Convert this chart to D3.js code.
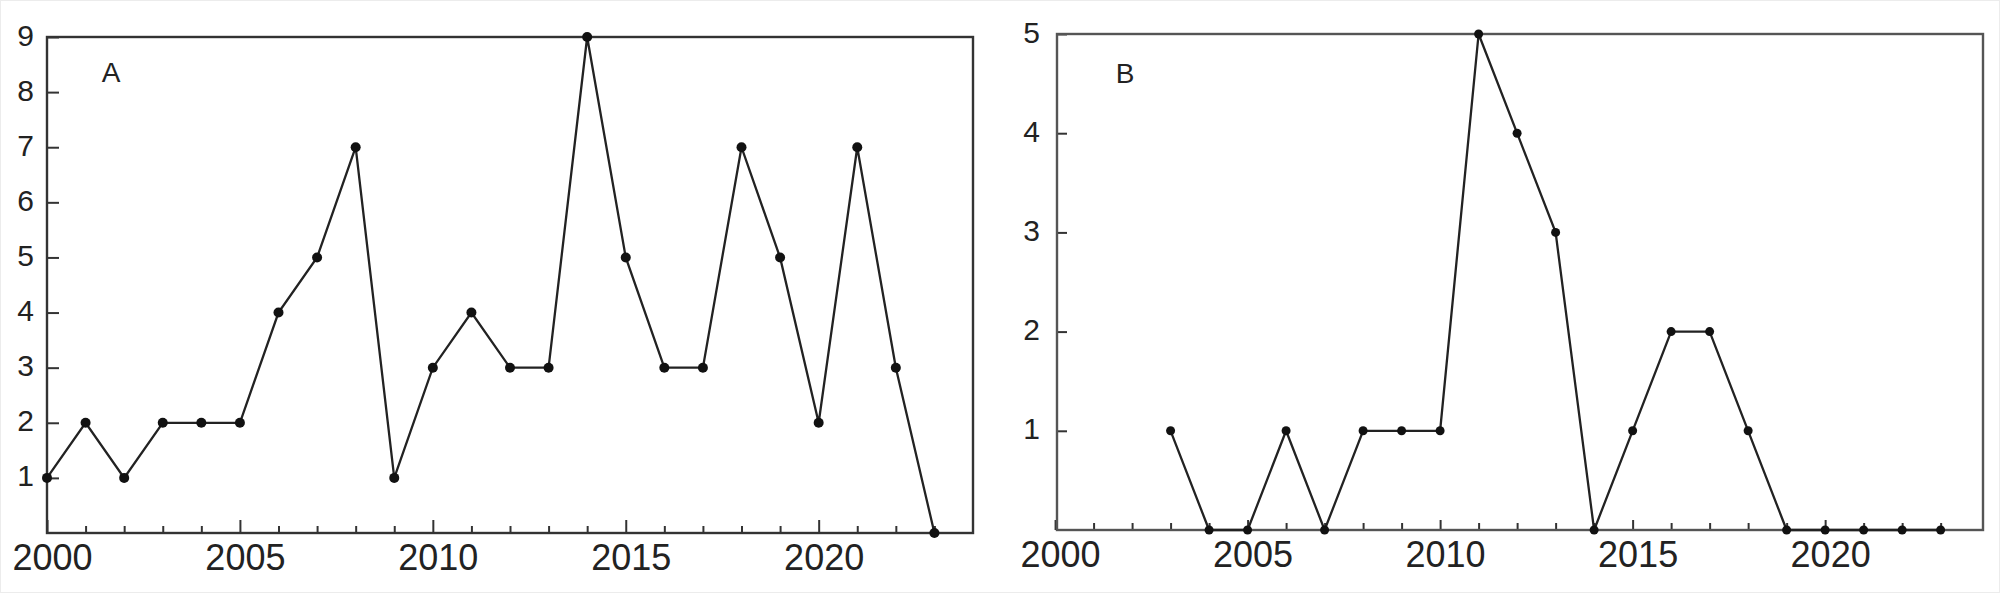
<!DOCTYPE html>
<html>
<head>
<meta charset="utf-8">
<script src="https://cdn.jsdelivr.net/npm/d3@7"></script>
<style>
  html, body { margin: 0; padding: 0; background: #fff; }
  svg { display: block; font-family: "Liberation Sans", Arial, sans-serif; }
</style>
</head>
<body>
<svg id="chart" width="2000" height="593"></svg>
<script>
// ---- data ----
const yearsA = [2000, 2001, 2002, 2003, 2004, 2005, 2006, 2007, 2008, 2009, 2010, 2011,
                2012, 2013, 2014, 2015, 2016, 2017, 2018, 2019, 2020, 2021, 2022, 2023];
const valuesA = [1, 2, 1, 2, 2, 2, 4, 5, 7, 1, 3, 4, 3, 3, 9, 5, 3, 3, 7, 5, 2, 7, 3, 0];

const yearsB = [2003, 2004, 2005, 2006, 2007, 2008, 2009, 2010, 2011, 2012, 2013,
                2014, 2015, 2016, 2017, 2018, 2019, 2020, 2021, 2022, 2023];
const valuesB = [1, 0, 0, 1, 0, 1, 1, 1, 5, 4, 3, 0, 1, 2, 2, 1, 0, 0, 0, 0, 0];

const xTickYears = [2000, 2001, 2002, 2003, 2004, 2005, 2006, 2007, 2008, 2009, 2010, 2011,
                    2012, 2013, 2014, 2015, 2016, 2017, 2018, 2019, 2020, 2021, 2022, 2023];
const xLabelYears = [2000, 2005, 2010, 2015, 2020];
const yTicksA = [1, 2, 3, 4, 5, 6, 7, 8, 9];
const yTicksB = [1, 2, 3, 4, 5];
const panelLabels = ["A", "B"];

// ---- drawing ----
const svg = d3.select("#chart");

svg.append("rect")
  .attr("x", 0.5).attr("y", 0.5).attr("width", 1999).attr("height", 592)
  .attr("fill", "none").attr("stroke", "#ececec");

function drawPanel(cfg) {
  const x = d3.scaleLinear().domain(cfg.xDomain).range([cfg.left, cfg.right]);
  const y = d3.scaleLinear().domain(cfg.yDomain).range([cfg.bottom, cfg.top]);
  const g = svg.append("g");

  // x axis (ticks inward)
  const xa = g.append("g")
    .attr("transform", `translate(0,${cfg.bottom})`)
    .call(d3.axisBottom(x)
      .tickValues(xTickYears)
      .tickSizeOuter(0)
      .tickSizeInner(-7)
      .tickPadding(cfg.xPad)
      .tickFormat(d => xLabelYears.includes(d) ? String(d) : ""));
  xa.select(".domain").remove();
  xa.selectAll(".tick line")
    .attr("stroke", "#333").attr("stroke-width", 2)
    .attr("y2", d => xLabelYears.includes(d) ? -cfg.majorTick : -7);
  xa.selectAll(".tick text")
    .attr("fill", "#222").attr("font-size", 36).attr("dx", 5);

  // y axis (ticks inward)
  const ya = g.append("g")
    .attr("transform", `translate(${cfg.left},0)`)
    .call(d3.axisLeft(y)
      .tickValues(cfg.yTicks)
      .tickSizeOuter(0)
      .tickSizeInner(-cfg.yTickLen)
      .tickPadding(cfg.yPad)
      .tickFormat(d3.format("d")));
  ya.select(".domain").remove();
  ya.selectAll(".tick line").attr("stroke", "#333").attr("stroke-width", 2);
  ya.selectAll(".tick text")
    .attr("fill", "#222").attr("font-size", 30).attr("dy", "0.27em");

  // frame
  g.append("rect")
    .attr("x", cfg.left).attr("y", cfg.top)
    .attr("width", cfg.right - cfg.left).attr("height", cfg.bottom - cfg.top)
    .attr("fill", "none").attr("stroke", cfg.frameColor).attr("stroke-width", 2.4);

  // line
  const pts = cfg.years.map((yr, i) => ({ yr, v: cfg.values[i] }));
  g.append("path")
    .datum(pts)
    .attr("fill", "none")
    .attr("stroke", "#222")
    .attr("stroke-width", 2.3)
    .attr("d", d3.line().x(d => x(d.yr)).y(d => y(d.v)));

  g.selectAll("circle.pt")
    .data(pts)
    .join("circle")
    .attr("class", "pt")
    .attr("cx", d => x(d.yr))
    .attr("cy", d => y(d.v))
    .attr("r", cfg.r)
    .attr("fill", "#111");

  // panel label
  g.append("text")
    .attr("x", cfg.labelX).attr("y", cfg.labelY)
    .attr("font-size", 28).attr("fill", "#222")
    .attr("text-anchor", "middle")
    .text(cfg.label);
}

drawPanel({
  years: yearsA, values: valuesA, yTicks: yTicksA,
  xDomain: [2000, 2024], yDomain: [0, 9],
  left: 47, right: 973, top: 37, bottom: 533,
  xPad: 11, yPad: 13, yTickLen: 12, majorTick: 13,
  frameColor: "#333", r: 5,
  label: panelLabels[0], labelX: 111, labelY: 82
});

drawPanel({
  years: yearsB, values: valuesB, yTicks: yTicksB,
  xDomain: [2000.05, 2024.1], yDomain: [0, 5],
  left: 1057, right: 1983, top: 34, bottom: 530,
  xPad: 11, yPad: 17, yTickLen: 10, majorTick: 10,
  frameColor: "#555", r: 4.5,
  label: panelLabels[1], labelX: 1125, labelY: 83
});
</script>
</body>
</html>
